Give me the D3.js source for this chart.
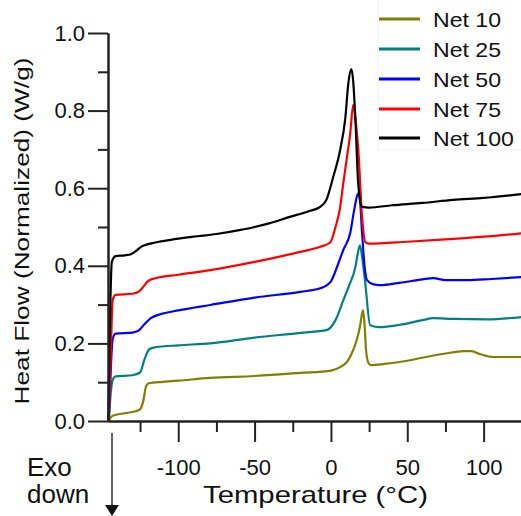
<!DOCTYPE html>
<html><head><meta charset="utf-8">
<script src="https://cdn.jsdelivr.net/npm/d3@7"></script>
<style>
body{margin:0;background:#fff}
svg{display:block}
text{font-family:Arial,"Liberation Sans",sans-serif;fill:#111}
</style>
</head><body>
<svg id="c" width="521" height="516"></svg>
<script>
// ---- data ----
const seriesNames = ["Net 10", "Net 25", "Net 50", "Net 75", "Net 100"];
const seriesColors = ["#808000", "#008080", "#0000ff", "#ff0000", "#000000"];

const net10 = [[-145.5,0],[-144,0.01],[-142,0.015],[-135,0.02],[-128,0.025],[-125,0.03],[-123,0.05],[-121,0.09],[-119,0.098],[-110,0.101],[-100,0.104],[-79,0.111],[-50,0.116],[-20,0.124],[0,0.13],[6,0.139],[11,0.155],[14.6,0.183],[17,0.21],[19,0.243],[21,0.286],[22,0.25],[23,0.183],[24.5,0.15],[26,0.144],[35,0.147],[45,0.152],[60,0.163],[75,0.174],[87,0.18],[92,0.18],[98,0.172],[106,0.165],[115,0.165],[125,0.165]];
const net25 = [[-145.5,0],[-144,0.08],[-143,0.105],[-141,0.115],[-130,0.118],[-125,0.125],[-122,0.16],[-119,0.185],[-115,0.19],[-100,0.195],[-79,0.2],[-50,0.215],[-20,0.227],[-2.4,0.235],[3,0.26],[8,0.31],[12,0.35],[16,0.397],[17.5,0.43],[19,0.453],[20.5,0.42],[22.5,0.355],[25.7,0.247],[32,0.242],[45,0.248],[60,0.26],[67,0.265],[80,0.263],[102,0.262],[125,0.268]];
const net50 = [[-145.5,0],[-144,0.15],[-143,0.21],[-141,0.225],[-130,0.228],[-126,0.233],[-122,0.25],[-118,0.265],[-110,0.277],[-100,0.285],[-79,0.299],[-50,0.318],[-20,0.333],[-7,0.342],[0,0.36],[4,0.397],[8,0.44],[12.6,0.484],[15.5,0.55],[17.8,0.587],[19,0.57],[20.4,0.484],[22,0.40],[23.6,0.363],[28,0.352],[32,0.35],[45,0.356],[60,0.365],[67,0.368],[75,0.363],[89,0.363],[105,0.366],[125,0.371]];
const net75 = [[-145.5,0],[-144,0.2],[-143,0.31],[-141,0.325],[-130,0.328],[-126,0.333],[-123,0.345],[-120,0.36],[-115,0.368],[-100,0.377],[-79,0.389],[-50,0.41],[-30,0.427],[-20,0.436],[-7,0.449],[-0.5,0.46],[3,0.5],[6,0.55],[8,0.61],[10.5,0.68],[12.6,0.74],[14.6,0.815],[16,0.78],[17.9,0.70],[20.4,0.526],[22.5,0.461],[25,0.457],[50,0.462],[75,0.468],[100,0.475],[125,0.484]];
const net100 = [[-145.8,0],[-144.5,0.30],[-143.5,0.41],[-141,0.425],[-135,0.427],[-131,0.43],[-128,0.437],[-125,0.447],[-122,0.453],[-115,0.46],[-105,0.467],[-90,0.475],[-75,0.482],[-60,0.492],[-50,0.50],[-40,0.51],[-27,0.526],[-15,0.54],[-7,0.552],[-3,0.57],[1.5,0.629],[6,0.698],[9.4,0.78],[11.4,0.87],[13.3,0.907],[14.5,0.88],[16,0.78],[17.9,0.61],[20.4,0.552],[25,0.55],[40,0.556],[60,0.562],[80,0.57],[100,0.575],[125,0.585]];
const seriesData = [net10, net25, net50, net75, net100];

const xMajorTicks = [-100, -50, 0, 50, 100];
const xMinorTicks = [-125, -75, -25, 25, 75];
const yMajorTicks = [0, 0.2, 0.4, 0.6, 0.8, 1.0];
const yMinorTicks = [0.1, 0.3, 0.5, 0.7, 0.9];

// ---- chart ----
const svg = d3.select("#c");
svg.append("rect").attr("width",521).attr("height",516).attr("fill","#fff");

const x = d3.scaleLinear().domain([-146, 125]).range([108, 521.8]);
const y = d3.scaleLinear().domain([0, 1]).range([421, 33]);

const line = d3.line().x(d => x(d[0])).y(d => y(d[1])).curve(d3.curveMonotoneX);

const g = svg.append("g");
seriesData.forEach((s, i) => {
  g.append("path").datum(s).attr("d", line)
    .attr("fill","none").attr("stroke", seriesColors[i])
    .attr("stroke-width", 2.2).attr("stroke-linejoin","round");
});

// legend
const lg = svg.append("g");
lg.append("rect").attr("x",378).attr("y",-2).attr("width",150).attr("height",152)
  .attr("fill","#fff").attr("stroke","#f2f2f2").attr("stroke-width",1);
const legY = [19, 49, 79, 109, 138];
seriesNames.forEach((n, i) => {
  lg.append("line").attr("x1",379).attr("x2",420).attr("y1",legY[i]).attr("y2",legY[i])
    .attr("stroke", seriesColors[i]).attr("stroke-width",3);
  const t = lg.append("text").attr("x",433).attr("y",legY[i]+8).attr("font-size",21).text(n);
  const w = t.node().getComputedTextLength();
  t.attr("textLength", w*1.1).attr("lengthAdjust","spacingAndGlyphs");
});

// axes
function styleAxis(sel){
  sel.selectAll("path,line").attr("stroke","#222").attr("stroke-width",2);
  sel.selectAll("text").attr("font-size",22).attr("fill","#111")
     .style("font-family","Arial, 'Liberation Sans', sans-serif");
}
const yMinor = svg.append("g").attr("transform","translate(108,0)")
  .call(d3.axisLeft(y).tickValues(yMinorTicks).tickSize(10).tickSizeOuter(0).tickFormat(""));
styleAxis(yMinor);
const yMajor = svg.append("g").attr("transform","translate(108,0)")
  .call(d3.axisLeft(y).tickValues(yMajorTicks).tickSize(20).tickSizeOuter(0).tickPadding(3).tickFormat(d => d.toFixed(1)));
styleAxis(yMajor);

const xMinor = svg.append("g").attr("transform","translate(0,421)")
  .call(d3.axisBottom(x).tickValues(xMinorTicks).tickSize(11).tickSizeOuter(0).tickFormat(""));
styleAxis(xMinor);
const xMajor = svg.append("g").attr("transform","translate(0,421)")
  .call(d3.axisBottom(x).tickValues(xMajorTicks).tickSize(21).tickSizeOuter(0).tickPadding(17).tickFormat(d => String(d)));
styleAxis(xMajor);

// axis titles
svg.append("text").attr("transform","translate(29,231) rotate(-90)")
  .attr("text-anchor","middle").attr("font-size",21)
  .attr("textLength",347).attr("lengthAdjust","spacingAndGlyphs")
  .text("Heat Flow (Normalized) (W/g)");
svg.append("text").attr("x",315.5).attr("y",503).attr("text-anchor","middle")
  .attr("font-size",24).attr("textLength",225).attr("lengthAdjust","spacingAndGlyphs")
  .text("Temperature (°C)");

// Exo down annotation
svg.append("text").attr("x",27).attr("y",476).attr("font-size",26).text("Exo");
svg.append("text").attr("x",27).attr("y",503).attr("font-size",26).text("down");
svg.append("line").attr("x1",112).attr("x2",112).attr("y1",433).attr("y2",507)
  .attr("stroke","#333").attr("stroke-width",1.5);
svg.append("path").attr("d","M105,505 L119,505 L112,516 Z").attr("fill","#111");
</script>
</body></html>
